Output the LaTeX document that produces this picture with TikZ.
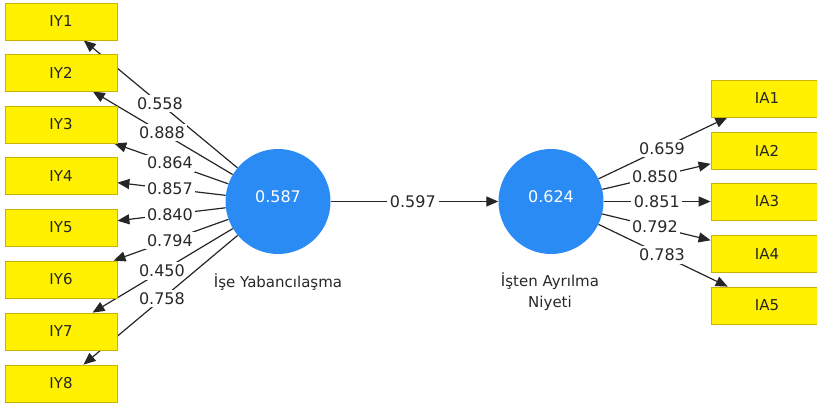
\documentclass[tikz,border=0pt]{standalone}
\usepackage{fontspec}
\setmainfont{DejaVu Sans}
\usetikzlibrary{arrows.meta,calc}
\pgfdeclarelayer{bg}
\pgfsetlayers{bg,main}
\definecolor{boxyellow}{RGB}{255,241,0}
\definecolor{boxedge}{RGB}{200,180,0}
\definecolor{lvblue}{RGB}{43,139,245}
\definecolor{txtgray}{RGB}{40,40,40}
\begin{document}
\begin{tikzpicture}[x=1pt,y=-1pt,
  indbox/.style={draw=boxedge, fill=boxyellow, line width=0.8pt, minimum width=112pt, minimum height=37pt, inner sep=0pt, text=black!85, font=\fontsize{15}{18}\selectfont},
  lv/.style={circle, fill=lvblue, minimum size=105pt, inner sep=0pt},
  lvtext/.style={text=white, font=\fontsize{16}{19}\selectfont},
  link/.style={draw=black!85, line width=1.2pt, -{Triangle[length=12pt,width=10pt]}},
  coef/.style={fill=white, inner sep=2.5pt, text=txtgray, font=\fontsize{16}{19}\selectfont},
  lvname/.style={text=txtgray, align=center, font=\fontsize{15}{21}\selectfont}]
\useasboundingbox (0,0) rectangle (817,406);

% latent variables
\node[lv, label={[lvtext,yshift=5pt]center:0.587}] (c1) at (278,201.5) {};
\node[lv, label={[lvtext,yshift=5pt]center:0.624}] (c2) at (551,201.5) {};
\node[lvname] (n1) at (278,282) {İşe Yabancılaşma};
\node[lvname] (n2) at (550,292) {İşten Ayrılma\\Niyeti};

% indicators
\foreach \i/\y in {1/21.5,2/72.5,3/124.5,4/176,5/227.5,6/279.5,7/331.5,8/383.5}
  \node[indbox] (IY\i) at (61,\y) {IY\i};
\foreach \i/\y in {1/98.5,2/150.5,3/201.5,4/254,5/305.5}
  \node[indbox] (IA\i) at (767,\y) {IA\i};

\begin{pgfonlayer}{bg}
  \foreach \i/\t/\v in {1/0.544/0.558,2/0.535/0.888,3/0.498/0.864,4/0.498/0.857,5/0.498/0.840,6/0.498/0.794,7/0.535/0.450,8/0.535/0.758}{
    \draw[link] (c1) -- (IY\i);
    \node[coef] (l\i) at ($(c1)!\t!(IY\i)$) {\v};
  }
  \foreach \i/\t/\v in {1/0.514/0.659,2/0.481/0.850,3/0.49/0.851,4/0.481/0.792,5/0.514/0.783}{
    \draw[link] (c2) -- (IA\i);
    \node[coef] (r\i) at ($(c2)!\t!(IA\i)$) {\v};
  }
  \draw[link] (c1) -- (c2);
  \node[coef, inner sep=3pt] (m) at ($(c1)!0.494!(c2)$) {0.597};
\end{pgfonlayer}
\end{tikzpicture}
\end{document}
